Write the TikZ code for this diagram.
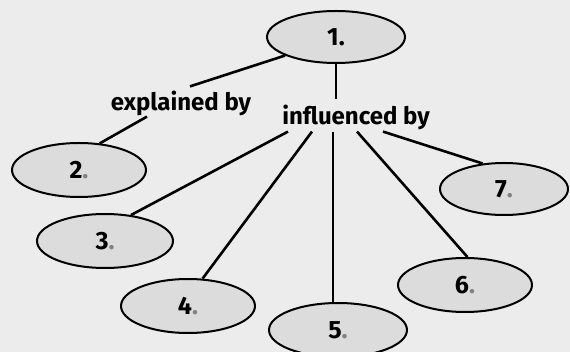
\documentclass[tikz,border=0pt]{standalone}
\usepackage{fontspec}
\setmainfont{Fira Sans}
\usetikzlibrary{shapes.geometric}
\definecolor{bg}{RGB}{236,236,236}
\definecolor{ellfill}{RGB}{220,220,220}
\definecolor{dotgray}{RGB}{130,130,130}
\begin{document}
\begin{tikzpicture}[x=1pt,y=-1pt,
  bubble/.style={ellipse, draw=black, line width=2pt, fill=ellfill, inner sep=0pt, font=\fontsize{25}{27}\selectfont\bfseries},
  lbl/.style={inner sep=0pt, font=\fontsize{24}{26}\selectfont\bfseries},
  conn/.style={draw=black, line width=2.6pt}]
\fill[bg] (0,0) rectangle (570,352);
\useasboundingbox (0,0) rectangle (570,352);
\node[bubble, minimum width=138pt, minimum height=52pt] (e1) at (336,37) {1.};
\node[bubble, minimum width=134pt, minimum height=54pt] (e2) at (79,170) {2\textcolor{dotgray}{.}};
\node[bubble, minimum width=136pt, minimum height=54pt] (e3) at (105,241) {3\textcolor{dotgray}{.}};
\node[bubble, minimum width=134pt, minimum height=54pt] (e4) at (188,306) {4\textcolor{dotgray}{.}};
\node[bubble, minimum width=138pt, minimum height=54pt] (e5) at (338,330) {5\textcolor{dotgray}{.}};
\node[bubble, minimum width=134pt, minimum height=54pt] (e6) at (465,285) {6\textcolor{dotgray}{.}};
\node[bubble, minimum width=128pt, minimum height=52pt] (e7) at (504,189) {7\textcolor{dotgray}{.}};
\node[lbl] (expl) at (181,103) {explained by};
\node[lbl] (infl) at (356,117) {influenced by};
\draw[conn] (e1.200) -- ([xshift=9pt,yshift=4pt]expl.north);
\draw[conn] (e2.52) -- ([xshift=-34pt,yshift=-1pt]expl.south);
\draw[conn] (e1.south) -- ([yshift=5pt]e1.south |- infl.north);
\draw[conn] ([xshift=-68pt,yshift=-2pt]infl.south) -- (e3.45);
\draw[conn] ([xshift=-44pt,yshift=-2pt]infl.south) -- (e4.62);
\draw[conn] ([xshift=-23pt,yshift=-2pt]infl.south) -- ([xshift=-23pt]infl.south |- e5.north);
\draw[conn] ([xshift=1pt,yshift=-2pt]infl.south) -- (e6.85);
\draw[conn] ([xshift=27pt,yshift=-2pt]infl.south) -- (e7.130);
\end{tikzpicture}
\end{document}
